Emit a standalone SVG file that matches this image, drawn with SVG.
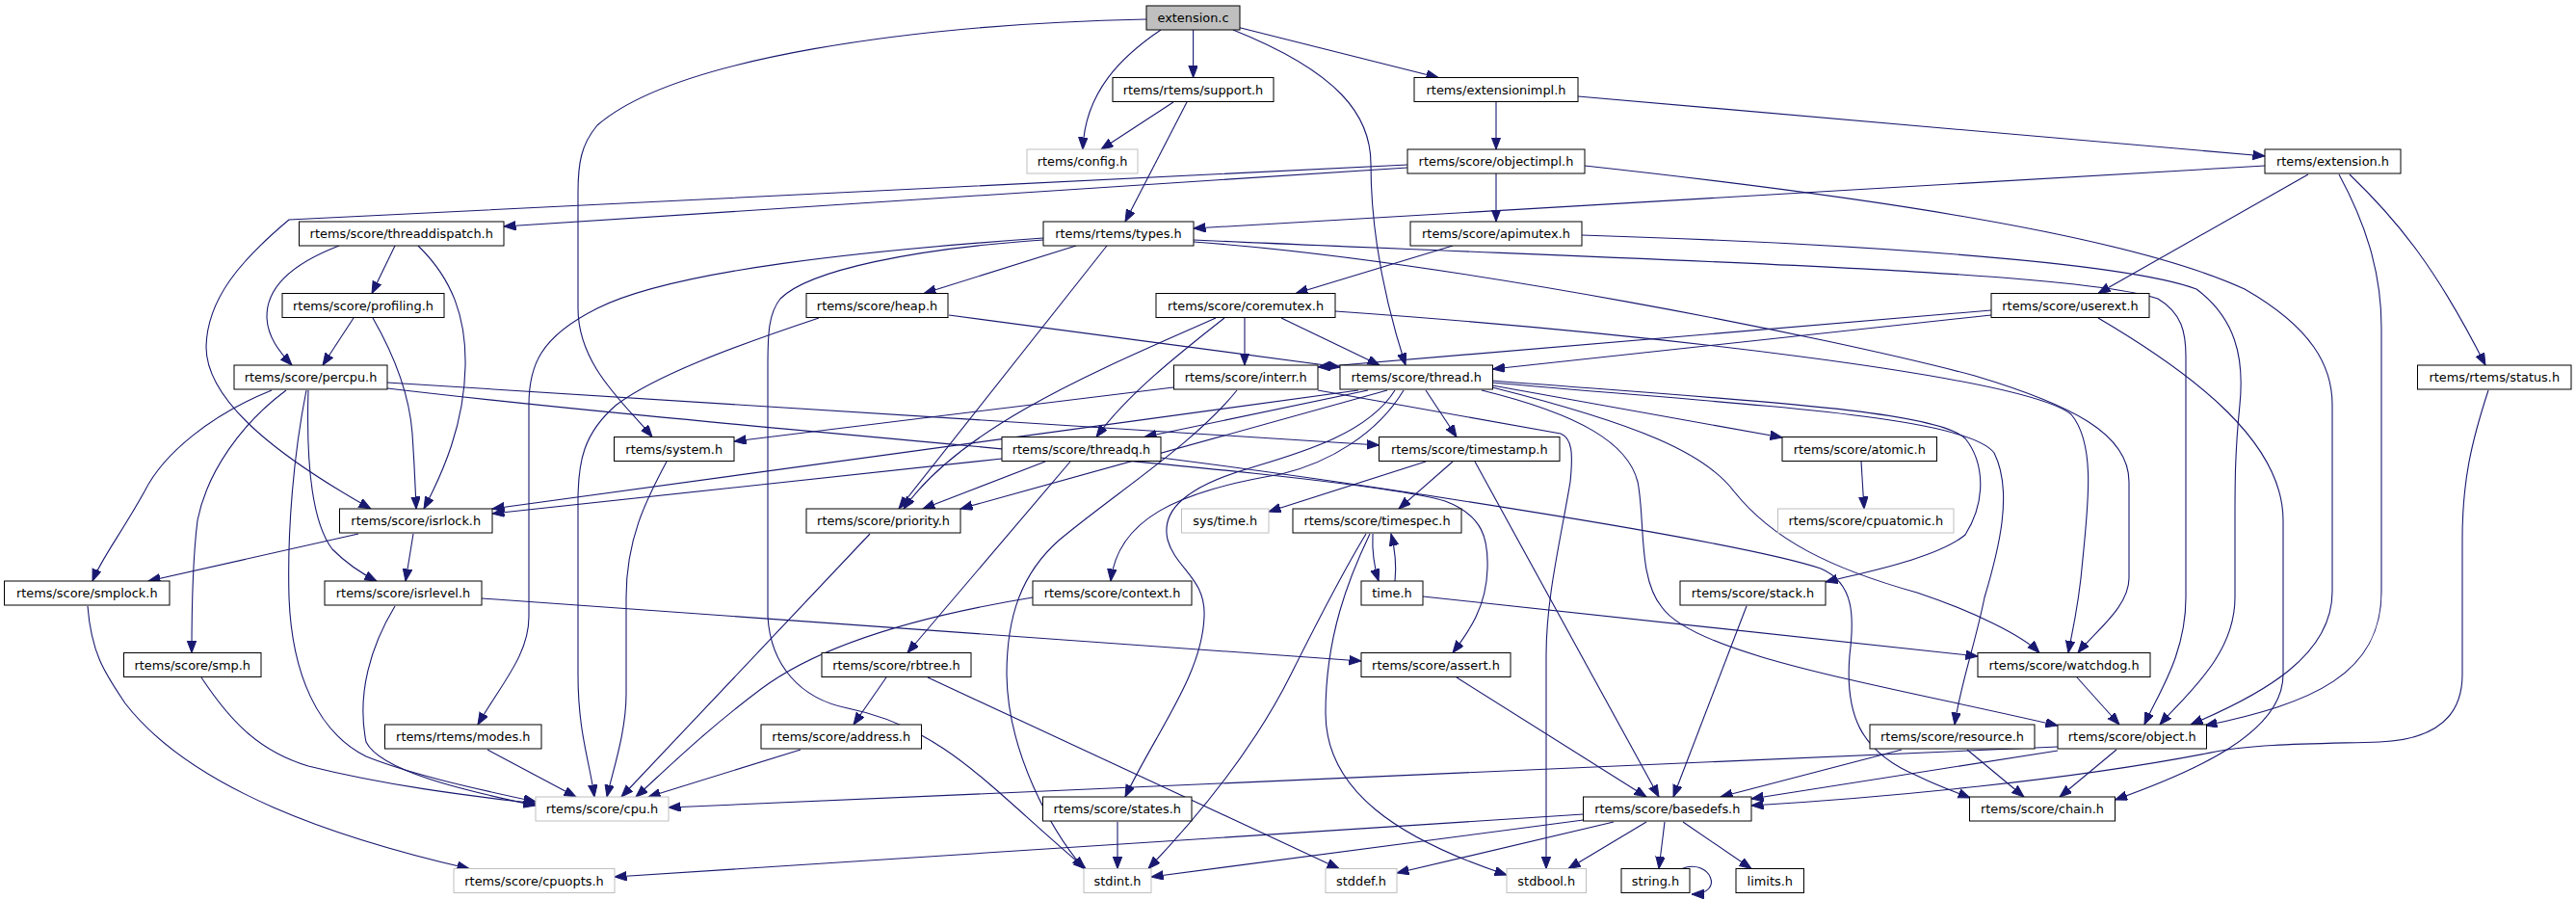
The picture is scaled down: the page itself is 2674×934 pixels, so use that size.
<svg xmlns="http://www.w3.org/2000/svg" width="2674" height="934" viewBox="0 0 2674 934">
<style>
.n rect{fill:#ffffff;stroke:#000000;stroke-width:1}
.g rect{fill:#ffffff;stroke:#bfbfbf;stroke-width:1}
.r rect{fill:#bfbfbf;stroke:#000000;stroke-width:1}
text{font-family:"DejaVu Sans","Liberation Sans",sans-serif;font-size:12.9px;fill:#000000;text-anchor:middle}
#edges path{fill:none;stroke:#191970;stroke-width:1.1;marker-end:url(#a)}
</style>
<defs>
<marker id="a" markerWidth="14" markerHeight="11" refX="12.5" refY="4.75" orient="auto" markerUnits="userSpaceOnUse"><path d="M0,0 L12.5,4.75 L0,9.5 z" fill="#191970" stroke="#191970" stroke-width="1"/></marker>
</defs>
<rect x="0" y="0" width="2674" height="934" fill="#ffffff"/>
<g id="edges">
<path d="M1205,31 C1165,58 1126,95 1124,155"/>
<path d="M1238.6,31 L1238.6,80.5"/>
<path d="M1287,28.7 L1493,80.5"/>
<path d="M1280,31 C1390,75 1423,120 1423,170 C1423,250 1440,320 1459,379"/>
<path d="M1190,20 C950,25 700,60 620,130 C603,150 600,170 600,200 L600,320 C600,380 650,420 677,453.5"/>
<path d="M1218,106 L1143,155"/>
<path d="M1232,106 L1168,230"/>
<path d="M1638,100 L2351,162"/>
<path d="M1553,106 L1553,155"/>
<path d="M1553,180 L1553,230"/>
<path d="M1461,174 L523,235"/>
<path d="M1461,171 L300,228 C250,270 215,310 214,360 C214,420 300,480 385,528"/>
<path d="M1645,172 C1900,200 2200,240 2330,300 C2400,340 2421,380 2421,420 L2421,614 C2421,680 2350,720 2274,752"/>
<path d="M2351,172 L1239,237"/>
<path d="M2396,181 L2178,304.5"/>
<path d="M2439,181 C2490,230 2530,280 2580,379"/>
<path d="M2428,181 C2460,240 2472,290 2472,340 L2472,614 C2472,700 2400,730 2289,753"/>
<path d="M1117,255 L959,304.5"/>
<path d="M1149,255 L933,528"/>
<path d="M1083,247 C900,260 700,280 620,320 C560,350 549,380 549,420 L549,640 C549,680 520,710 496,752"/>
<path d="M1083,249 C950,258 840,280 810,310 C798,325 797,345 797,380 L797,640 C800,690 830,725 880,735 C980,755 1030,820 1127,901.5"/>
<path d="M1239,249 C1700,270 2150,280 2240,310 C2265,325 2269,345 2269,370 L2269,620 C2269,680 2240,720 2226,752"/>
<path d="M1239,251 C1500,270 1900,350 2050,390 C2150,420 2210,450 2210,500 L2210,600 C2210,630 2175,655 2157,677.5"/>
<path d="M1508,255 L1345,304.5"/>
<path d="M1642,244 C1900,252 2200,270 2280,300 C2320,330 2330,370 2325,420 C2320,470 2320,500 2320,540 L2320,620 C2320,680 2270,720 2242,752"/>
<path d="M352,255 C300,275 276,300 277,330 C278,350 290,365 303,379"/>
<path d="M410,255 L386,304.5"/>
<path d="M434,255 C470,290 484,330 483,380 C482,440 460,490 440,528"/>
<path d="M367,330 L335,379"/>
<path d="M387,330 C410,370 425,410 428,450 C430,480 431,500 432,528"/>
<path d="M282,405 C220,430 170,470 150,510 C125,555 105,580 96,603"/>
<path d="M297,405 C250,440 215,490 205,540 C200,580 199,620 199,677.5"/>
<path d="M318,405 C305,470 298,550 300,620 C303,700 330,760 380,785 C430,805 500,820 556,832"/>
<path d="M320,405 C318,470 322,540 345,570 C360,585 375,595 391,603"/>
<path d="M402,397 L1431.5,462"/>
<path d="M402,403 C800,450 1400,490 1500,520 C1540,535 1545,560 1544,590 C1543,630 1525,655 1508,677.5"/>
<path d="M1205,475 C1400,500 1800,560 1890,590 C1925,605 1925,640 1920,680 C1915,740 1930,780 1990,805 C2010,815 2030,822 2045,828"/>
<path d="M1085,479 L958,528"/>
<path d="M1111,479 L942,677.5"/>
<path d="M1040,476 L511,533"/>
<path d="M1410,405 L511,528"/>
<path d="M1440,405 L997,528"/>
<path d="M1420,405 L1188,453.5"/>
<path d="M1457,405 C1430,450 1380,480 1330,492 C1220,510 1160,540 1153,603"/>
<path d="M1448,405 C1420,450 1350,470 1300,485 C1230,505 1205,530 1212,560 C1220,590 1252,600 1250,640 C1248,700 1200,760 1168,827"/>
<path d="M1480,405 L1512,453.5"/>
<path d="M1549,400 L1850,454"/>
<path d="M1549,395 C1800,415 2010,425 2040,455 C2060,480 2062,520 2040,555 C2010,580 1930,595 1895,604"/>
<path d="M1549,397 C1800,420 2040,430 2070,470 C2090,510 2075,570 2060,620 C2050,670 2035,710 2029,752"/>
<path d="M1538,405 C1640,430 1690,460 1700,500 C1708,540 1700,600 1725,630 C1760,680 1950,710 2136,753"/>
<path d="M1549,402 C1700,440 1770,470 1800,510 C1840,560 1900,590 1990,615 C2050,635 2100,660 2117,677.5"/>
<path d="M1330,330 L1432,379"/>
<path d="M1292,330 L1292,379"/>
<path d="M1271,330 C1220,370 1170,410 1138,453.5"/>
<path d="M1262,330 C1150,380 1000,440 938,528"/>
<path d="M1386,323 C1700,345 2100,390 2150,430 C2175,460 2168,520 2162,580 C2158,630 2150,660 2147,677.5"/>
<path d="M985,327 L1391,381"/>
<path d="M850,330 C760,360 680,390 640,420 C605,450 600,480 600,520 L600,700 C600,760 612,790 617,827"/>
<path d="M2067,322 L1368,381"/>
<path d="M2067,327 L1549.5,383"/>
<path d="M2178,330 C2280,390 2370,460 2370,540 L2370,700 C2370,760 2280,800 2195.5,830"/>
<path d="M2583,405 C2565,460 2556,500 2556,560 L2556,700 C2556,750 2520,768 2470,770 C2400,772 2340,772 2300,780 C2150,810 1950,828 1818,836"/>
<path d="M1218,402 L762,458"/>
<path d="M1284,405 C1240,460 1160,510 1100,560 C1060,595 1045,640 1045,700 C1046,780 1090,860 1125,901.5"/>
<path d="M1368,405 L1620,450 C1632,455 1633,470 1630,500 C1620,560 1605,620 1605,680 L1605,901.5"/>
<path d="M1480,479 L1317,531"/>
<path d="M1508,479 L1452,528"/>
<path d="M1531,479 L1722,827"/>
<path d="M1425,554 C1424,575 1427,590 1431,603"/>
<path d="M1448,603 C1450,585 1448,570 1444,554"/>
<path d="M1418,554 C1390,600 1360,660 1340,700 C1310,760 1260,830 1192,901.5"/>
<path d="M1422,554 C1400,600 1376,660 1376,740 C1376,820 1450,870 1564,908"/>
<path d="M1477,619 L2053,681"/>
<path d="M1813,629 L1737,827"/>
<path d="M1932,479 L1935,528"/>
<path d="M1512,703 L1709,827"/>
<path d="M1974,778 L1786,827"/>
<path d="M2042,778 L2101,827"/>
<path d="M2197,778 L2138,827"/>
<path d="M2136,779 L1818,829"/>
<path d="M2136,775 L694,838"/>
<path d="M2156,703 L2200,752"/>
<path d="M1643.5,845 L638,910"/>
<path d="M1643.5,851 L1195,910"/>
<path d="M1675,853 L1450,906"/>
<path d="M1709,853 L1628,901.5"/>
<path d="M1728,853 L1722,901.5"/>
<path d="M1747,853 L1818,901.5"/>
<path d="M1746,901.5 C1775,890 1792,928 1756,928"/>
<path d="M1160,853 L1160,901.5"/>
<path d="M1072,620 C950,640 850,670 790,715 C730,760 690,800 660,827"/>
<path d="M903,554 L645,827"/>
<path d="M831,778 L673,827"/>
<path d="M920,703 L886,752"/>
<path d="M963,703 L1390,901.5"/>
<path d="M506,778 L598,827"/>
<path d="M209,703 C240,750 270,780 320,795 C400,815 480,825 556,834"/>
<path d="M410,629 C385,670 370,720 380,770 C395,800 480,820 556,836"/>
<path d="M500,621 L1413,686"/>
<path d="M91,629 C95,680 110,700 130,730 C200,820 350,870 487,901.5"/>
<path d="M372,554 L154,603"/>
<path d="M429,554 L421,603"/>
<path d="M692,479 C670,520 650,560 650,620 L650,720 C650,760 636,800 630,827"/>
</g>
<g id="n_extension_c" class="r"><rect x="1190" y="6" width="97" height="25"/><text x="1238.5" y="23">extension.c</text></g>
<g id="n_support" class="n"><rect x="1155" y="80.5" width="167" height="25"/><text x="1238.5" y="97.5">rtems/rtems/support.h</text></g>
<g id="n_extensionimpl" class="n"><rect x="1468" y="80.5" width="170" height="25"/><text x="1553" y="97.5">rtems/extensionimpl.h</text></g>
<g id="n_config" class="g"><rect x="1066" y="155" width="115" height="25"/><text x="1123.5" y="172">rtems/config.h</text></g>
<g id="n_objectimpl" class="n"><rect x="1461" y="155" width="184" height="25"/><text x="1553" y="172">rtems/score/objectimpl.h</text></g>
<g id="n_extension_h" class="n"><rect x="2351" y="155" width="141" height="25"/><text x="2421.5" y="172">rtems/extension.h</text></g>
<g id="n_threaddispatch" class="n"><rect x="310.5" y="230" width="212.5" height="25"/><text x="416.75" y="247">rtems/score/threaddispatch.h</text></g>
<g id="n_types" class="n"><rect x="1083" y="230" width="156" height="25"/><text x="1161" y="247">rtems/rtems/types.h</text></g>
<g id="n_apimutex" class="n"><rect x="1464" y="230" width="178" height="25"/><text x="1553" y="247">rtems/score/apimutex.h</text></g>
<g id="n_profiling" class="n"><rect x="293" y="304.5" width="168" height="25"/><text x="377" y="321.5">rtems/score/profiling.h</text></g>
<g id="n_heap" class="n"><rect x="837" y="304.5" width="147" height="25"/><text x="910.5" y="321.5">rtems/score/heap.h</text></g>
<g id="n_coremutex" class="n"><rect x="1200" y="304.5" width="186" height="25"/><text x="1293" y="321.5">rtems/score/coremutex.h</text></g>
<g id="n_userext" class="n"><rect x="2067" y="304.5" width="164" height="25"/><text x="2149" y="321.5">rtems/score/userext.h</text></g>
<g id="n_percpu" class="n"><rect x="243" y="379" width="159" height="25"/><text x="322.5" y="396">rtems/score/percpu.h</text></g>
<g id="n_interr" class="n"><rect x="1218.5" y="379" width="149.5" height="25"/><text x="1293.25" y="396">rtems/score/interr.h</text></g>
<g id="n_thread" class="n"><rect x="1391" y="379" width="158.5" height="25"/><text x="1470.25" y="396">rtems/score/thread.h</text></g>
<g id="n_status" class="n"><rect x="2509.5" y="379" width="159.5" height="25"/><text x="2589.25" y="396">rtems/rtems/status.h</text></g>
<g id="n_system" class="n"><rect x="637.5" y="453.5" width="124.5" height="25"/><text x="699.75" y="470.5">rtems/system.h</text></g>
<g id="n_threadq" class="n"><rect x="1040" y="453.5" width="165" height="25"/><text x="1122.5" y="470.5">rtems/score/threadq.h</text></g>
<g id="n_timestamp" class="n"><rect x="1431.5" y="453.5" width="187.5" height="25"/><text x="1525.25" y="470.5">rtems/score/timestamp.h</text></g>
<g id="n_atomic" class="n"><rect x="1850" y="453.5" width="160.5" height="25"/><text x="1930.25" y="470.5">rtems/score/atomic.h</text></g>
<g id="n_isrlock" class="n"><rect x="352.5" y="528" width="158.5" height="25"/><text x="431.75" y="545">rtems/score/isrlock.h</text></g>
<g id="n_priority" class="n"><rect x="837" y="528" width="160" height="25"/><text x="917" y="545">rtems/score/priority.h</text></g>
<g id="n_systime" class="g"><rect x="1226.5" y="528" width="90.5" height="25"/><text x="1271.75" y="545">sys/time.h</text></g>
<g id="n_timespec" class="n"><rect x="1342" y="528" width="175" height="25"/><text x="1429.5" y="545">rtems/score/timespec.h</text></g>
<g id="n_cpuatomic" class="g"><rect x="1845.5" y="528" width="182.5" height="25"/><text x="1936.75" y="545">rtems/score/cpuatomic.h</text></g>
<g id="n_smplock" class="n"><rect x="4.5" y="603" width="171.5" height="25"/><text x="90.25" y="620">rtems/score/smplock.h</text></g>
<g id="n_isrlevel" class="n"><rect x="337" y="603" width="163" height="25"/><text x="418.5" y="620">rtems/score/isrlevel.h</text></g>
<g id="n_context" class="n"><rect x="1072" y="603" width="165" height="25"/><text x="1154.5" y="620">rtems/score/context.h</text></g>
<g id="n_time" class="n"><rect x="1413" y="603" width="64" height="25"/><text x="1445" y="620">time.h</text></g>
<g id="n_stack" class="n"><rect x="1744" y="603" width="151" height="25"/><text x="1819.5" y="620">rtems/score/stack.h</text></g>
<g id="n_smp" class="n"><rect x="128.5" y="677.5" width="142.5" height="25"/><text x="199.75" y="694.5">rtems/score/smp.h</text></g>
<g id="n_rbtree" class="n"><rect x="853" y="677.5" width="155" height="25"/><text x="930.5" y="694.5">rtems/score/rbtree.h</text></g>
<g id="n_assert" class="n"><rect x="1413" y="677.5" width="155" height="25"/><text x="1490.5" y="694.5">rtems/score/assert.h</text></g>
<g id="n_watchdog" class="n"><rect x="2053" y="677.5" width="179" height="25"/><text x="2142.5" y="694.5">rtems/score/watchdog.h</text></g>
<g id="n_modes" class="n"><rect x="399.5" y="752" width="162.5" height="25"/><text x="480.75" y="769">rtems/rtems/modes.h</text></g>
<g id="n_address" class="n"><rect x="790" y="752" width="166.5" height="25"/><text x="873.25" y="769">rtems/score/address.h</text></g>
<g id="n_resource" class="n"><rect x="1941" y="752" width="171" height="25"/><text x="2026.5" y="769">rtems/score/resource.h</text></g>
<g id="n_object" class="n"><rect x="2136" y="752" width="154.5" height="25"/><text x="2213.25" y="769">rtems/score/object.h</text></g>
<g id="n_cpu" class="g"><rect x="556" y="827" width="138" height="25"/><text x="625" y="844">rtems/score/cpu.h</text></g>
<g id="n_states" class="n"><rect x="1082.5" y="827" width="154.5" height="25"/><text x="1159.75" y="844">rtems/score/states.h</text></g>
<g id="n_basedefs" class="n"><rect x="1643.5" y="827" width="174.5" height="25"/><text x="1730.75" y="844">rtems/score/basedefs.h</text></g>
<g id="n_chain" class="n"><rect x="2044.5" y="827" width="151" height="25"/><text x="2120" y="844">rtems/score/chain.h</text></g>
<g id="n_cpuopts" class="g"><rect x="471" y="901.5" width="167" height="25"/><text x="554.5" y="918.5">rtems/score/cpuopts.h</text></g>
<g id="n_stdint" class="g"><rect x="1125" y="901.5" width="70" height="25"/><text x="1160" y="918.5">stdint.h</text></g>
<g id="n_stddef" class="g"><rect x="1376" y="901.5" width="74" height="25"/><text x="1413" y="918.5">stddef.h</text></g>
<g id="n_stdbool" class="g"><rect x="1564" y="901.5" width="82.5" height="25"/><text x="1605.25" y="918.5">stdbool.h</text></g>
<g id="n_string" class="n"><rect x="1683" y="901.5" width="71" height="25"/><text x="1718.5" y="918.5">string.h</text></g>
<g id="n_limits" class="n"><rect x="1802" y="901.5" width="70.5" height="25"/><text x="1837.25" y="918.5">limits.h</text></g>
</svg>
